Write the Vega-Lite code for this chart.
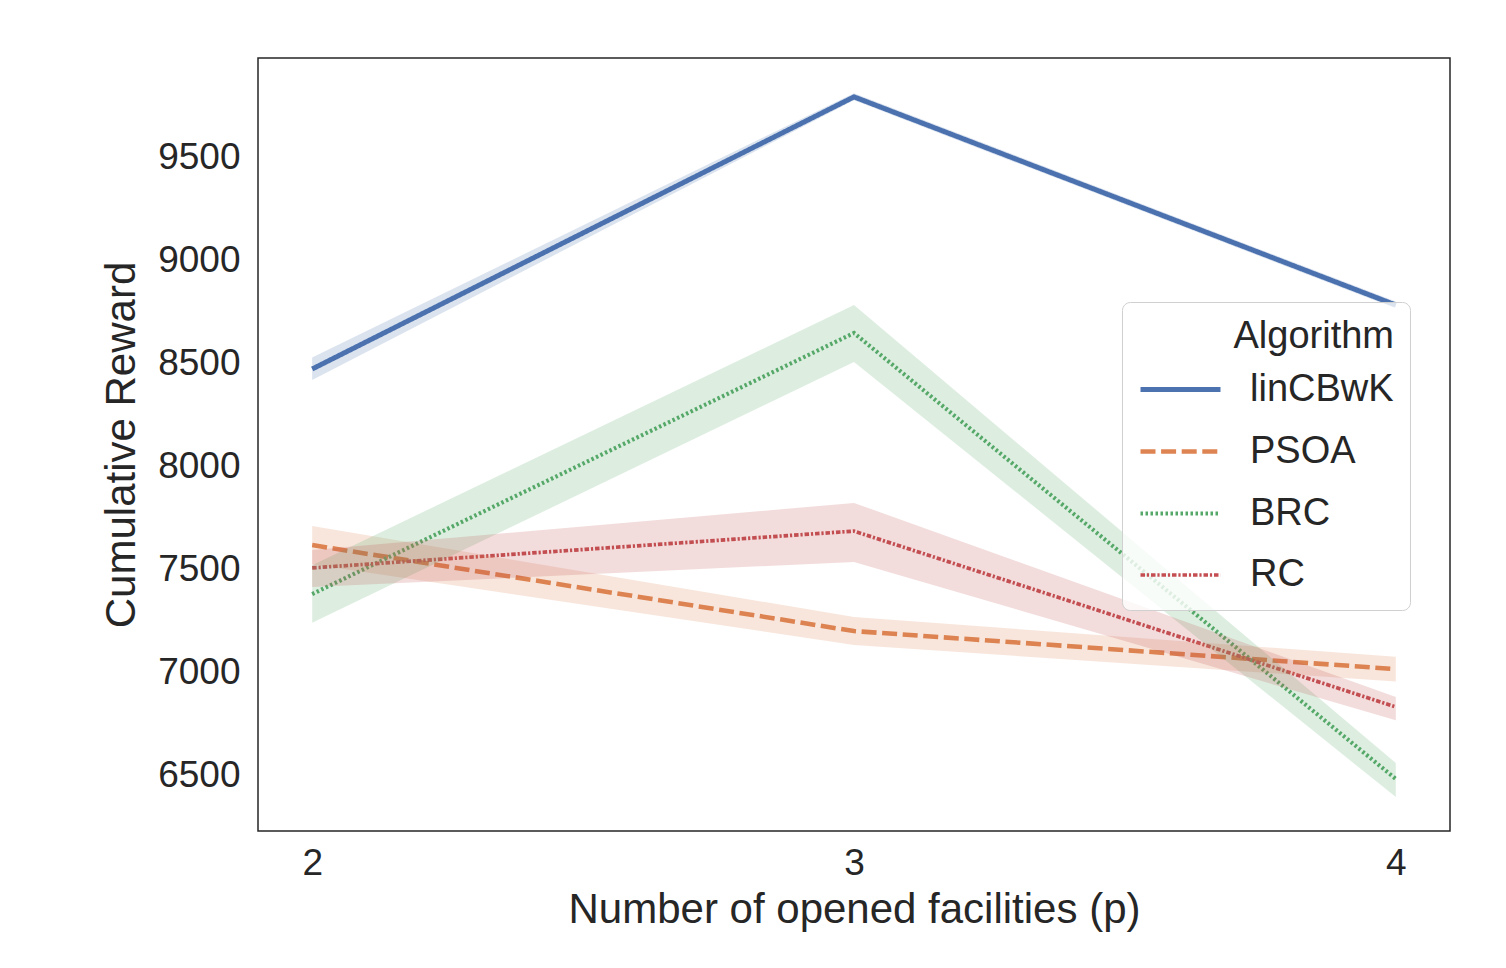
{
  "$schema": "https://vega.github.io/schema/vega-lite/v6.json",
  "width": 1192,
  "height": 773,
  "autosize": "none",
  "padding": {"left": 258, "top": 58, "right": 56, "bottom": 137},
  "background": "white",
  "data": {
    "values": [
      {"Algorithm": "linCBwK", "p": 2, "mean": 8474, "lo": 8420, "hi": 8530},
      {"Algorithm": "linCBwK", "p": 3, "mean": 9797, "lo": 9780, "hi": 9815},
      {"Algorithm": "linCBwK", "p": 4, "mean": 8785, "lo": 8768, "hi": 8802},
      {"Algorithm": "PSOA", "p": 2, "mean": 7618, "lo": 7525, "hi": 7711},
      {"Algorithm": "PSOA", "p": 3, "mean": 7200, "lo": 7132, "hi": 7268},
      {"Algorithm": "PSOA", "p": 4, "mean": 7015, "lo": 6955, "hi": 7075},
      {"Algorithm": "BRC", "p": 2, "mean": 7380, "lo": 7240, "hi": 7520},
      {"Algorithm": "BRC", "p": 3, "mean": 8649, "lo": 8508, "hi": 8785},
      {"Algorithm": "BRC", "p": 4, "mean": 6481, "lo": 6393, "hi": 6558},
      {"Algorithm": "RC", "p": 2, "mean": 7507, "lo": 7414, "hi": 7594},
      {"Algorithm": "RC", "p": 3, "mean": 7686, "lo": 7536, "hi": 7823},
      {"Algorithm": "RC", "p": 4, "mean": 6831, "lo": 6767, "hi": 6879}
    ]
  },
  "encoding": {
    "x": {
      "field": "p", "type": "quantitative",
      "scale": {"domain": [1.9, 4.1], "nice": false, "zero": false},
      "axis": {"values": [2, 3, 4], "format": "d", "title": "Number of opened facilities (p)", "labelPadding": 14, "titlePadding": 8}
    }
  },
  "layer": [
    {
      "mark": {"type": "line"},
      "encoding": {
        "y": {
          "field": "mean", "type": "quantitative",
          "scale": {"domain": [6228, 9986], "nice": false, "zero": false},
          "axis": {"values": [6500, 7000, 7500, 8000, 8500, 9000, 9500], "format": "d", "title": "Cumulative Reward", "labelPadding": 18, "titlePadding": 14}
        },
        "color": {
          "field": "Algorithm", "type": "nominal",
          "scale": {"domain": ["linCBwK", "PSOA", "BRC", "RC"], "range": ["#4c72b0", "#dd8452", "#55a868", "#c44e52"]},
          "legend": {
            "orient": "none", "legendX": 864, "legendY": 244,
            "title": "Algorithm", "titleAnchor": "end",
            "symbolType": "stroke", "symbolSize": 6400, "symbolOpacity": 1
          }
        },
        "strokeDash": {
          "field": "Algorithm", "type": "nominal",
          "scale": {"domain": ["linCBwK", "PSOA", "BRC", "RC"], "range": [[1, 0], [15, 5.6], [2.5, 2.5], [4.5, 1.9, 2.2, 1.9]]}
        },
        "strokeWidth": {
          "field": "Algorithm", "type": "nominal",
          "scale": {"domain": ["linCBwK", "PSOA", "BRC", "RC"], "range": [5, 3.7, 2.3, 1.1]}
        }
      }
    },
    {
      "mark": {"type": "area", "fillOpacity": 0.2},
      "encoding": {
        "y": {"field": "lo", "type": "quantitative"},
        "y2": {"field": "hi"},
        "color": {"field": "Algorithm", "type": "nominal"}
      }
    }
  ],
  "config": {
    "font": "Liberation Sans",
    "view": {"stroke": "#262626", "strokeWidth": 1.5},
    "axis": {
      "grid": false, "ticks": false, "domain": false,
      "labelFont": "Liberation Sans", "labelFontSize": 37, "labelColor": "#262626",
      "titleFont": "Liberation Sans", "titleFontSize": 42, "titleFontWeight": "normal", "titleColor": "#262626"
    },
    "legend": {
      "fillColor": "rgba(255,255,255,0.8)", "strokeColor": "#d0d0d0", "cornerRadius": 8,
      "padding": 16, "titleFont": "Liberation Sans", "titleFontSize": 38, "titleFontWeight": "normal", "titleColor": "#262626",
      "labelFont": "Liberation Sans", "labelFontSize": 38, "labelColor": "#262626",
      "labelOffset": 27, "rowPadding": -32, "titlePadding": -9
    }
  }
}
